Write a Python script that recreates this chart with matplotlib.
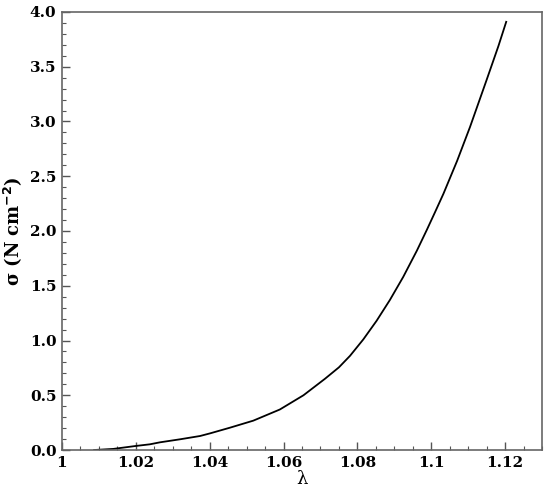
import numpy as np
import matplotlib
matplotlib.use("Agg")
import matplotlib.pyplot as plt
from matplotlib.ticker import MultipleLocator, FixedLocator

# curve: stretch ratio vs stress
lam = [1.0087, 1.0139, 1.0200, 1.0238, 1.0265, 1.0320, 1.0374, 1.0401, 1.0455,
       1.0518, 1.0590, 1.0654, 1.0712, 1.0750, 1.0780, 1.0816, 1.0852, 1.0888,
       1.0924, 1.0961, 1.0988, 1.1010, 1.1033, 1.1070, 1.1105, 1.1150, 1.1182,
       1.1203]
sigma = [0.0, 0.01, 0.037, 0.052, 0.07, 0.098, 0.128, 0.152, 0.204,
         0.268, 0.37, 0.50, 0.65, 0.755, 0.86, 1.01, 1.18, 1.37,
         1.58, 1.82, 2.01, 2.17, 2.34, 2.64, 2.95, 3.38, 3.69,
         3.91]

x_ticks = [1.0, 1.02, 1.04, 1.06, 1.08, 1.1, 1.12]
x_tick_labels = ['1', '1.02', '1.04', '1.06', '1.08', '1.1', '1.12']

plt.rcParams['font.family'] = ['DejaVu Serif']

fig = plt.figure(figsize=(5.5, 4.93), dpi=100)
ax = fig.add_axes([0.1127, 0.0872, 0.8728, 0.8885])

ax.plot(lam, sigma, color='black', lw=1.3)

ax.set_xlim(1.0, 1.13)
ax.set_ylim(0, 4.0)
ax.xaxis.set_major_locator(FixedLocator(x_ticks))
ax.set_xticklabels(x_tick_labels)
ax.xaxis.set_minor_locator(MultipleLocator(0.005))
ax.yaxis.set_major_locator(MultipleLocator(0.5))
ax.yaxis.set_minor_locator(MultipleLocator(0.1))
ax.yaxis.set_major_formatter(matplotlib.ticker.FormatStrFormatter('%.1f'))

ax.tick_params(which='both', direction='in', top=False, right=False,
               color='#555555')
ax.tick_params(which='major', length=6, width=1, labelsize=11, pad=4)
ax.tick_params(which='minor', length=3, width=0.8)
for lbl in ax.get_xticklabels() + ax.get_yticklabels():
    lbl.set_fontweight('bold')

for sp in ax.spines.values():
    sp.set_color('#666666')
    sp.set_linewidth(1.2)

ax.set_xlabel('λ', fontsize=13, labelpad=0)
ax.set_ylabel(r'σ (N cm$^{\mathbf{-2}}$)', fontsize=13, fontweight='bold', labelpad=4)

fig.savefig('out.png', dpi=100)
